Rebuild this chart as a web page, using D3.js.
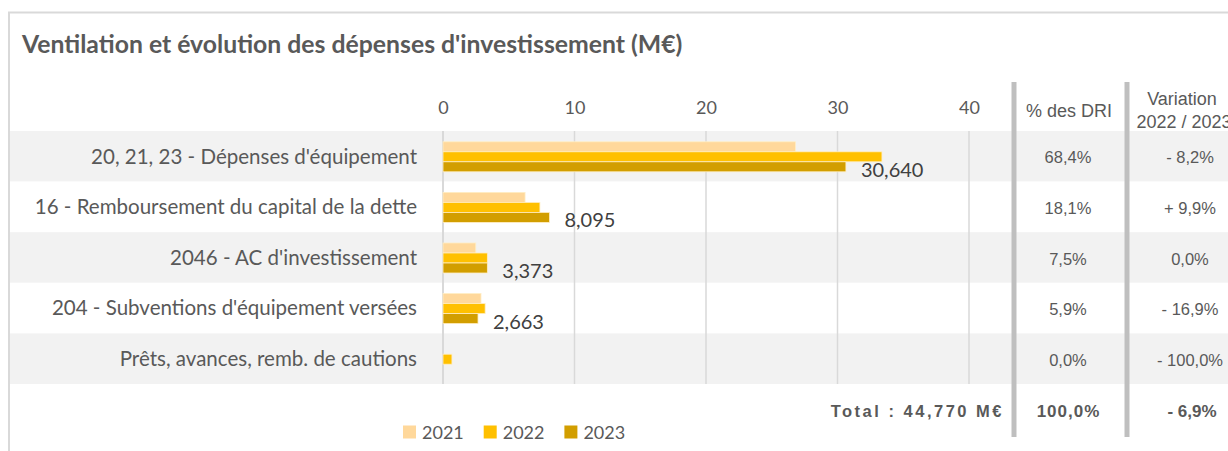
<!DOCTYPE html>
<html>
<head>
<meta charset="utf-8">
<script src="https://cdn.jsdelivr.net/npm/d3@7"></script>
<style>
  body { margin: 0; background: #fff; }
</style>
</head>
<body>
<div id="chart"></div>
<script>
var categories = ["20, 21, 23 - Dépenses d'équipement", "16 - Remboursement du capital de la dette", "2046 - AC d'investissement", "204 - Subventions d'équipement versées", "Prêts, avances, remb. de cautions"]
var years = ["2021", "2022", "2023"]
var values2021 = [26.8, 6.24, 2.49, 2.89, 0]
var values2022 = [33.38, 7.37, 3.373, 3.205, 0.68]
var values2023 = [30.640, 8.095, 3.373, 2.663, 0]
var shareDRI = ["68,4%", "18,1%", "7,5%", "5,9%", "0,0%"]
var variation = ["- 8,2%", "+ 9,9%", "0,0%", "- 16,9%", "- 100,0%"]
var xTicks = [0, 10, 20, 30, 40]
var totalLabel = "Total :  44,770 M€"
var totalShare = "100,0%"
var totalVariation = "- 6,9%"
var colors = ["#ffd89b", "#ffc000", "#d29e00"]

var W = 1228, H = 451
var textColor = "#595959"
var catFont = "Lato, 'Open Sans', sans-serif"
var tabFont = "'Liberation Sans', Arial, sans-serif"

var fr = d3.formatLocale({decimal: ",", thousands: " ", grouping: [3], currency: ["", " €"]})
var fmt = fr.format(".3f")

var data = categories.map(function(c, i) {
    return {cat: c, vals: [values2021[i], values2022[i], values2023[i]]}
})

var svg = d3.select("#chart").append("svg")
    .attr("width", W)
    .attr("height", H)

// frame
svg.append("line").attr("x1", 8).attr("x2", W).attr("y1", 12.5).attr("y2", 12.5)
    .attr("stroke", "#d9d9d9").attr("stroke-width", 2)
svg.append("line").attr("x1", 9).attr("x2", 9).attr("y1", 12).attr("y2", H)
    .attr("stroke", "#d9d9d9").attr("stroke-width", 2)

// title
var title = svg.append("text")
    .attr("x", 22).attr("y", 53)
    .attr("font-family", catFont)
    .attr("font-weight", "bold")
    .attr("font-size", 20)
    .attr("fill", textColor)
    .text("Ventilation et évolution des dépenses d'investissement (M€)")
title.attr("font-size", 20 * 661 / title.node().getComputedTextLength())

// scales
var y = d3.scaleBand().domain(categories).range([131, 384])
var yInner = d3.scaleBand().domain(years).range([0, y.bandwidth()]).paddingOuter(1.03)
var x = d3.scaleLinear().domain([0, 40]).range([443, 969])

// row backgrounds
svg.selectAll("rect.row")
    .data(categories)
    .enter()
    .append("rect")
    .attr("class", "row")
    .attr("x", 10)
    .attr("width", W - 10)
    .attr("y", function(d) { return y(d) })
    .attr("height", y.step())
    .attr("fill", function(d, i) { return i % 2 == 0 ? "#f2f2f2" : "#ffffff" })

// gridlines
svg.selectAll("line.grid")
    .data(xTicks)
    .enter()
    .append("line")
    .attr("class", "grid")
    .attr("x1", function(d) { return x(d) })
    .attr("x2", function(d) { return x(d) })
    .attr("y1", 131)
    .attr("y2", 384)
    .attr("stroke", "#d9d9d9")
    .attr("stroke-width", function(d) { return d == 0 ? 2 : 1.5 })

// top axis
var xAxis = svg.append("g")
    .attr("transform", "translate(0,114)")
    .call(d3.axisTop(x).tickValues(xTicks).tickSize(0).tickPadding(0))
xAxis.select(".domain").remove()
xAxis.selectAll("text")
    .attr("font-family", catFont)
    .attr("font-size", 18)
    .attr("fill", textColor)

// category labels
var yAxis = svg.append("g")
    .attr("transform", "translate(417,0)")
    .call(d3.axisLeft(y).tickSize(0).tickPadding(0))
yAxis.select(".domain").remove()
yAxis.selectAll("text")
    .attr("font-family", catFont)
    .attr("font-size", 18)
    .attr("fill", textColor)
    .attr("dy", "0.36em")
var firstW = yAxis.select("text").node().getComputedTextLength()
yAxis.selectAll("text").attr("font-size", 18 * 326 / firstW)

// bars
var groups = svg.selectAll("g.cat")
    .data(data)
    .enter()
    .append("g")
    .attr("class", "cat")
    .attr("transform", function(d) { return "translate(0," + (y(d.cat) + 0.5) + ")" })

groups.selectAll("rect")
    .data(function(d) { return d.vals })
    .enter()
    .append("rect")
    .attr("x", x(0))
    .attr("y", function(d, i) { return yInner(years[i]) })
    .attr("width", function(d) { return x(d) - x(0) })
    .attr("height", yInner.bandwidth())
    .attr("fill", function(d, i) { return colors[i] })
    .attr("stroke", function(d) { return d > 0 ? "#ffeec4" : "none" })
    .attr("stroke-width", 0.8)

// value labels (2023)
groups.append("text")
    .filter(function(d) { return d.vals[2] > 0 })
    .attr("x", function(d) { return x(d.vals[2]) + 15 })
    .attr("y", yInner("2023") + yInner.bandwidth() / 2 + 10)
    .attr("font-family", catFont)
    .attr("font-size", 20)
    .attr("fill", "#404040")
    .text(function(d) { return fmt(d.vals[2]) })

// table dividers
svg.append("rect").attr("x", 1011.5).attr("width", 5).attr("y", 82).attr("height", 355).attr("fill", "#bfbfbf")
svg.append("rect").attr("x", 1124.5).attr("width", 5).attr("y", 82).attr("height", 355).attr("fill", "#bfbfbf")

// table headers
function tabText(xp, yp, txt, size, bold) {
    return svg.append("text")
        .attr("x", xp).attr("y", yp)
        .attr("text-anchor", "middle")
        .attr("font-family", tabFont)
        .attr("font-size", size)
        .attr("font-weight", bold ? "bold" : "normal")
        .attr("fill", textColor)
        .text(txt)
}
tabText(1069, 116.5, "% des DRI", 18)
tabText(1182, 104.5, "Variation", 18)
tabText(1184, 128, "2022 / 2023", 18)

// table values
svg.selectAll("text.share")
    .data(shareDRI)
    .enter()
    .append("text")
    .attr("class", "share")
    .attr("x", 1068)
    .attr("y", function(d, i) { return y(categories[i]) + y.bandwidth() / 2 + 7 })
    .attr("text-anchor", "middle")
    .attr("font-family", tabFont)
    .attr("font-size", 16.5)
    .attr("fill", textColor)
    .text(function(d) { return d })

svg.selectAll("text.vari")
    .data(variation)
    .enter()
    .append("text")
    .attr("class", "vari")
    .attr("x", 1190)
    .attr("y", function(d, i) { return y(categories[i]) + y.bandwidth() / 2 + 7 })
    .attr("text-anchor", "middle")
    .attr("font-family", tabFont)
    .attr("font-size", 16.5)
    .attr("fill", textColor)
    .text(function(d) { return d })

// total row
svg.append("text")
    .attr("x", 1004).attr("y", 417)
    .attr("text-anchor", "end")
    .attr("font-family", tabFont)
    .attr("font-size", 16.5)
    .attr("font-weight", "bold")
    .attr("letter-spacing", 2.5)
    .attr("fill", textColor)
    .text(totalLabel)
tabText(1068.5, 417, totalShare, 17, true).attr("letter-spacing", 1)
tabText(1192, 417, totalVariation, 17, true)

// legend
var legend = svg.selectAll("g.legend")
    .data(years)
    .enter()
    .append("g")
    .attr("class", "legend")
    .attr("transform", function(d, i) { return "translate(" + (403 + i * 80.7) + ",425.5)" })
legend.append("rect")
    .attr("width", 13).attr("height", 13)
    .attr("fill", function(d, i) { return colors[i] })
legend.append("text")
    .attr("x", 19).attr("y", 13.5)
    .attr("font-family", catFont)
    .attr("font-size", 18)
    .attr("fill", textColor)
    .text(function(d) { return d })
</script>
</body>
</html>
